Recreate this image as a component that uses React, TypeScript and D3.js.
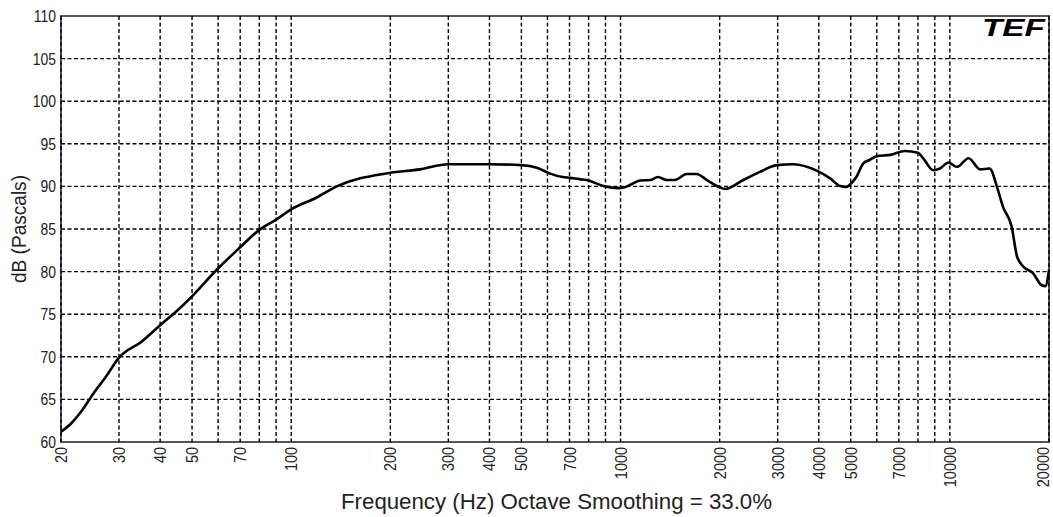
import * as d3 from 'd3'

// response curve
const freqs = [
  20, 21.5, 23.0, 24.4, 25.3, 27.2, 30, 35.2, 40, 45, 50, 59, 70, 80, 90, 100,
  119.5, 137.5, 162, 180, 200, 246, 300, 400, 500, 557, 611, 667, 703, 750, 789, 887,
  985, 1030, 1150, 1230, 1300, 1380, 1460, 1590, 1700, 1830, 1960, 2080, 2360,
  2650, 2980, 3350, 3940, 4330, 4640, 4860, 5000, 5200, 5460, 5700, 6000, 6600,
  7300, 8000, 8300, 8900, 9330, 9900, 10500, 11400, 12350, 13200, 13900, 14500,
  15400, 16000, 16700, 17900, 19000, 19500, 20000,
]
const levels = [
  61.2, 62.2, 63.55, 65.0, 65.9, 67.5, 69.9, 71.8, 73.7, 75.4, 77.1, 80.1, 82.85, 84.9, 86.1, 87.3,
  88.7, 90.0, 90.95, 91.3, 91.6, 92.0, 92.6, 92.6, 92.5, 92.2, 91.5, 91.1, 91.0, 90.85, 90.75, 90.05,
  89.8, 89.9, 90.7, 90.75, 91.1, 90.75, 90.75, 91.45, 91.45, 90.75, 90.05, 89.7, 90.75,
  91.7, 92.5, 92.6, 91.85, 90.95, 90.05, 89.95, 90.3, 91.1, 92.7, 93.1, 93.55, 93.7,
  94.15, 93.95, 93.3, 91.9, 92.1, 92.8, 92.3, 93.3, 92.0, 92.1, 89.95, 87.6,
  85.3, 81.75, 80.6, 79.8, 78.4, 78.3, 80.2,
]

const xGrid = [
  20, 30, 40, 50, 60, 70, 80, 90, 100, 200, 300, 400, 500, 600, 700, 800, 900,
  1000, 2000, 3000, 4000, 5000, 6000, 7000, 8000, 9000, 10000, 20000,
]
const xLabels = [20, 30, 40, 50, 70, 100, 200, 300, 400, 500, 700, 1000, 2000, 3000, 4000, 5000, 7000, 10000, 20000]
const yTicks = [60, 65, 70, 75, 80, 85, 90, 95, 100, 105, 110]

// no narrow font installed, so squeeze the regular one
const FONT = '"Liberation Sans", Arial, sans-serif'

export default function App() {
  const width = 1053
  const height = 517
  const left = 61
  const right = 1049
  const top = 16
  const bottom = 442

  const x = d3.scaleLog().domain([20, 20000]).range([left, right])
  const y = d3.scaleLinear().domain([60, 110]).range([bottom, top])

  const pts: [number, number][] = freqs.map((f, i) => [f, levels[i]])
  const line = d3.line<[number, number]>()
    .x(d => x(d[0]))
    .y(d => y(d[1]))
    .curve(d3.curveMonotoneX)

  return (
    <svg width={width} height={height} style={{position: 'absolute', left: 0, top: 0, background: '#fff'}}>
      <rect x={left} y={top} width={right - left} height={bottom - top} fill="none" stroke="#555" strokeWidth={2} />
      <g stroke="#000" strokeWidth={1.4} strokeDasharray="4,2.5">
        {yTicks.slice(1, -1).map(t => (
          <line key={t} x1={left} x2={right} y1={y(t)} y2={y(t)} />
        ))}
        {xGrid.map(f => (
          <line key={f} x1={x(f)} x2={x(f)} y1={top} y2={bottom} />
        ))}
      </g>
      <path d={line(pts) ?? undefined} fill="none" stroke="#000" strokeWidth={2.6} strokeLinejoin="round" />

      <g fontFamily={FONT} fontSize={17} fill="#222" textAnchor="end">
        {yTicks.map(t => (
          <text key={t} transform={`translate(${left - 5},${y(t) + 6}) scale(0.82,1)`}>{t}</text>
        ))}
      </g>
      <g fontFamily={FONT} fontSize={17} fill="#222" textAnchor="end">
        {xLabels.map(f => (
          <text
            key={f}
            transform={`translate(${Math.min(x(f) + 6, 1049)},${bottom + 5}) rotate(-90) scale(0.85,1)`}
          >
            {f}
          </text>
        ))}
      </g>
      <text
        transform={`translate(26,${(top + bottom) / 2}) rotate(-90)`}
        textAnchor="middle"
        fontFamily={FONT}
        fontSize={20}
        fill="#222"
        textLength={108}
        lengthAdjust="spacingAndGlyphs"
      >
        dB (Pascals)
      </text>
      <text
        x={341}
        y={509}
        fontFamily={FONT}
        fontSize={22}
        fill="#222"
        textLength={431}
        lengthAdjust="spacingAndGlyphs"
      >
        Frequency (Hz) Octave Smoothing = 33.0%
      </text>
      <text
        x={982}
        y={36}
        fontFamily={FONT}
        fontSize={23}
        fontWeight={900}
        fontStyle="italic"
        fill="#000"
        textLength={63}
        lengthAdjust="spacingAndGlyphs"
      >
        TEF
      </text>
    </svg>
  )
}
